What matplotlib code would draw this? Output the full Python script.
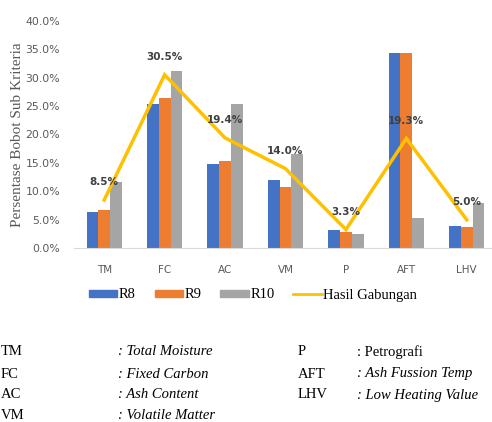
import matplotlib
matplotlib.use("Agg")
import matplotlib.pyplot as plt
import numpy as np
from matplotlib.patches import Patch
from matplotlib.lines import Line2D

categories = ["TM", "FC", "AC", "VM", "P", "AFT", "LHV"]
r8 = [6.4, 25.4, 14.9, 12.0, 3.2, 34.4, 4.0]
r9 = [6.7, 26.5, 15.3, 10.7, 2.9, 34.4, 3.8]
r10 = [11.7, 31.2, 25.3, 16.5, 2.5, 5.3, 8.0]
hasil = [8.5, 30.5, 19.4, 14.0, 3.3, 19.3, 5.0]
yticks = [0, 5, 10, 15, 20, 25, 30, 35, 40]

notes_left = [("TM", ": Total Moisture"), ("FC", ": Fixed Carbon"),
              ("AC", ": Ash Content"), ("VM", ": Volatile Matter")]
notes_right = [("P", ": Petrografi", "normal"), ("AFT", ": Ash Fussion Temp", "italic"),
               ("LHV", ": Low Heating Value", "italic")]

W, H = 492, 422
fig = plt.figure(figsize=(W/100, H/100), dpi=100)
ax = fig.add_axes([74/W, (H-248.3)/H, 423/W, 227.6/H])

x = np.arange(len(categories))
bw = 0.195
c_blue, c_orange, c_gray, c_yellow = "#4472C4", "#ED7D31", "#A5A5A5", "#FFC000"
ax.bar(x - bw, r8, bw, color=c_blue)
ax.bar(x, r9, bw, color=c_orange)
ax.bar(x + bw, r10, bw, color=c_gray)
ax.plot(x, hasil, color=c_yellow, lw=2.5, solid_joinstyle="miter")
for xi, v in zip(x, hasil):
    ax.annotate(f"{v:.1f}%", (xi, v), xytext=(0, 17.5), textcoords="offset pixels",
                ha="center", va="center", fontsize=7.5, fontweight="bold", color="#404040")

ax.set_xlim(-0.5, len(categories) - 0.5)
ax.set_ylim(0, 40)
ax.set_yticks(yticks)
ax.set_yticklabels([f"{t:.1f}%" for t in yticks], fontsize=7.8, color="#595959")
ax.set_xticks(x)
ax.set_xticklabels(categories, fontsize=7.5, color="#595959")
ax.tick_params(length=0)
ax.tick_params(axis="x", pad=12)
ax.tick_params(axis="y", pad=10)
for s in ["top", "right", "left"]:
    ax.spines[s].set_visible(False)
ax.spines["bottom"].set_color("#D9D9D9")
ax.set_ylabel("Persentase Bobot Sub Kriteria", family="Liberation Serif", fontsize=11,
              color="#595959")
ax.yaxis.set_label_coords((24 - 74) / 423, 0.5)

handles = [Patch(color=c_blue), Patch(color=c_orange), Patch(color=c_gray),
           Line2D([0], [0], color=c_yellow, lw=2)]
fig.legend(handles, ["R8", "R9", "R10", "Hasil Gabungan"], loc="center",
           bbox_to_anchor=(253/W, 1 - 295/H), ncol=4, frameon=False,
           prop={"family": "Liberation Serif", "size": 10.5},
           handlelength=1.95, handleheight=0.4, handletextpad=0.1, columnspacing=1.3)

rows = [351.7, 374, 395, 415.7]
for (a, b), yy in zip(notes_left, rows):
    fig.text(1/W, 1 - yy/H, a, family="Liberation Serif", fontsize=10.5, va="center")
    fig.text(118/W, 1 - yy/H, b, family="Liberation Serif", fontsize=10.5, va="center",
             style="italic")
for (a, b, st), yy in zip(notes_right, rows):
    fig.text(298/W, 1 - yy/H, a, family="Liberation Serif", fontsize=10.5, va="center")
    fig.text(357/W, 1 - yy/H, b, family="Liberation Serif", fontsize=10.5, va="center",
             style=st)

fig.savefig("out.png", dpi=100)
